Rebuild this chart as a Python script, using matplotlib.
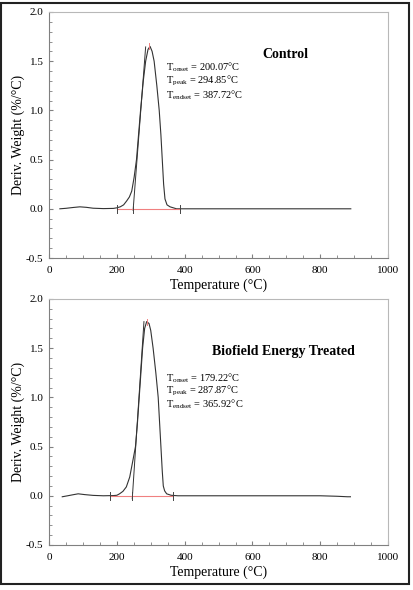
import matplotlib.pyplot as plt
import matplotlib.patches as patches

plt.rcParams['font.family'] = ['Liberation Serif', 'DejaVu Serif']
plt.rcParams['mathtext.fontset'] = 'custom'
plt.rcParams['mathtext.rm'] = 'Liberation Serif'

# Control DTG curve
ctrl_temp = [32, 50, 70, 91, 110, 130, 160, 190, 200, 210, 220, 229, 237, 244, 251,
             258, 264, 270, 278, 285, 292, 298, 304, 310, 318, 325, 330, 334, 338,
             342, 348, 357, 376, 450, 520, 600, 700, 800, 890]
ctrl_deriv = [0.0, 0.005, 0.013, 0.02, 0.015, 0.006, 0.002, 0.004, 0.01, 0.02, 0.04,
              0.08, 0.12, 0.18, 0.32, 0.5, 0.75, 1.0, 1.3, 1.5, 1.62, 1.65, 1.6,
              1.5, 1.25, 1.0, 0.75, 0.5, 0.25, 0.1, 0.04, 0.02, 0.0, 0.0, 0.0,
              0.0, 0.0, 0.0, 0.0]
ctrl_onset, ctrl_peak, ctrl_endset = 200.07, 294.85, 387.72
ctrl_tangent_x = [248, 285]
ctrl_tangent_y = [-0.015, 1.645]
ctrl_tan_base = 248

# Biofield Energy Treated DTG curve
trt_temp = [39, 55, 70, 86, 105, 130, 160, 190, 200, 208, 218, 228, 238, 248, 255,
            261, 266, 271, 276, 282, 288, 295, 300, 307, 315, 322, 326, 330, 334,
            337, 341, 347, 360, 380, 500, 650, 800, 850, 880, 889]
trt_deriv = [-0.01, 0.0, 0.01, 0.02, 0.012, 0.004, 0.0, 0.002, 0.005, 0.02, 0.045,
             0.09, 0.19, 0.37, 0.5, 0.75, 1.0, 1.25, 1.5, 1.7, 1.77, 1.75, 1.68,
             1.5, 1.25, 1.0, 0.75, 0.5, 0.25, 0.1, 0.05, 0.02, 0.005, 0.0, 0.0,
             0.0, 0.0, -0.005, -0.01, -0.01]
trt_onset, trt_peak, trt_endset = 179.22, 287.87, 365.92
trt_tangent_x = [245.5, 280]
trt_tangent_y = [-0.03, 1.77]
trt_tan_base = 245.5

panels = [
    dict(temp=ctrl_temp, deriv=ctrl_deriv, onset=ctrl_onset, peak=ctrl_peak,
         endset=ctrl_endset, tx=ctrl_tangent_x, ty=ctrl_tangent_y, base=ctrl_tan_base,
         title='Control', title_xy=(696, 1.57), note_x=345, note_y=[1.44, 1.30, 1.16],
         rect=[0.1184, 0.5627, 0.819, 0.417]),
    dict(temp=trt_temp, deriv=trt_deriv, onset=trt_onset, peak=trt_peak,
         endset=trt_endset, tx=trt_tangent_x, ty=trt_tangent_y, base=trt_tan_base,
         title='Biofield Energy Treated', title_xy=(690, 1.47), note_x=345,
         note_y=[1.20, 1.07, 0.93], rect=[0.1184, 0.0763, 0.819, 0.417]),
]

fig = plt.figure(figsize=(4.14, 5.9), dpi=100)
fig.patches.append(patches.Rectangle((0.003, 0.01), 0.984, 0.985, transform=fig.transFigure,
                                     fill=False, edgecolor='#222222', linewidth=1.5))

for p in panels:
    ax = fig.add_axes(p['rect'])
    ax.set_xlim(0, 1000)
    ax.set_ylim(-0.5, 2.0)
    for s in ['left', 'bottom']:
        ax.spines[s].set_color('#808080')
    for s in ['top', 'right']:
        ax.spines[s].set_color('#b8b8b8')
    ax.set_xticks(range(0, 1001, 200))
    ax.set_xticks(range(0, 1001, 50), minor=True)
    ax.set_yticks([-0.5, 0.0, 0.5, 1.0, 1.5, 2.0])
    ax.set_yticklabels(['-0.5', '0.0', '0.5', '1.0', '1.5', '2.0'])
    ax.set_yticks([v / 10 for v in range(-5, 21)], minor=True)
    ax.tick_params(which='both', direction='in', color='#808080', labelsize=8,
                   top=False, right=False)
    ax.tick_params(which='major', length=3)
    ax.tick_params(axis='x', which='major', pad=6)
    ax.tick_params(axis='y', which='major', pad=4)
    ax.tick_params(which='minor', length=2)

    ax.plot(p['temp'], p['deriv'], color='#333333', linewidth=0.8)
    ax.plot(p['tx'], p['ty'], color='#333333', linewidth=0.7)
    ax.plot([p['onset'], p['endset']], [0, 0], color='#f08080', linewidth=0.8)
    for xv in [p['onset'], p['base'], p['endset']]:
        ax.plot([xv, xv], [-0.04, 0.04], color='#444444', linewidth=0.7)
    pk = max(p['deriv'])
    ax.plot([p['peak'], p['peak']], [pk - 0.03, pk + 0.03], color='#f08080', linewidth=0.7)

    ax.text(p['title_xy'][0], p['title_xy'][1], p['title'], ha='center', va='center',
            fontsize=10, fontweight='bold')
    notes = [r'T$_{\rm onset}$ = %.2f°C' % p['onset'],
             r'T$_{\rm peak}$ = %.2f°C' % p['peak'],
             r'T$_{\rm endset}$ = %.2f°C' % p['endset']]
    for t, yv in zip(notes, p['note_y']):
        ax.text(p['note_x'], yv, t, ha='left', va='center', fontsize=7.5)

    ax.set_xlabel('Temperature (°C)', fontsize=10, labelpad=2)
    ax.set_ylabel('Deriv. Weight (%/°C)', fontsize=10, labelpad=1)

fig.savefig('out.png', dpi=100)
